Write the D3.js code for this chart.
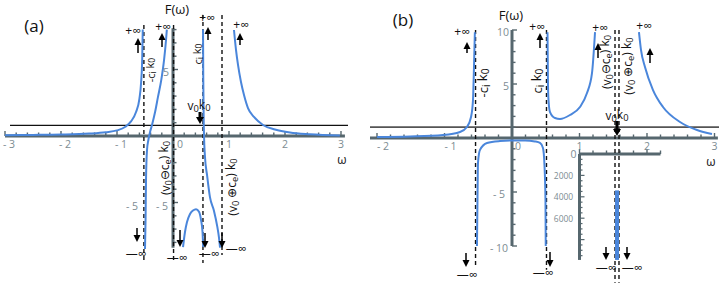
<!DOCTYPE html>
<html><head><meta charset="utf-8">
<script src="https://cdn.jsdelivr.net/npm/d3@7"></script>
<style>body{margin:0;background:#fff} text{font-family:"Open Sans","Noto Sans",sans-serif}</style>
</head><body><svg id="c" width="719" height="283"></svg>
<script>
// ---------- Panel (a) data ----------
const aTickLabels = [-3,-2,-1,0,1,2,3];
const aLevel = 0.8;
const aAsymptotes = [-0.52, 0.01, 0.535, 0.875];      // -ci k0, (v0-ce)k0, ci k0, (v0+ce)k0
const aAsymTop    = [8.35, 8.35, 9.1, 9.1];
const aAsymBottom = [-9.55, -9.55, -9.55, -8.95];
const a1Omega = [-3,-2.5,-2,-1.5,-1.2,-1.0,-0.85,-0.75,-0.66,-0.6,-0.57,-0.55,-0.54];
const a1F     = [0.06,0.08,0.11,0.18,0.28,0.42,0.7,1.1,1.8,2.8,4.0,5.8,8];
const a2Omega = [-0.5,-0.49,-0.482,-0.464,-0.44,-0.41,-0.375,-0.32,-0.27,-0.21,-0.16,-0.125,-0.11];
const a2F     = [-8.5,-6.3,-3.3,-1.05,-0.3,0.3,0.83,1.8,2.9,4.2,5.7,7.2,8];
const a3Omega = [0.536,0.541,0.548,0.554,0.57,0.61,0.66,0.73,0.79,0.82,0.84];
const a3F     = [8,4.2,1.2,0,-1.5,-3.0,-4.6,-5.6,-6.8,-7.6,-8.4];
const a4Omega = [0.179,0.214,0.25,0.304,0.357,0.411,0.464,0.5,0.527,0.539];
const a4F     = [-8.35,-7.22,-6.47,-5.86,-5.6,-5.5,-5.7,-6.3,-7.2,-8.35];
const a5Omega = [1.089,1.125,1.161,1.214,1.268,1.339,1.446,1.607,1.821,2.089,2.446,2.98];
const a5F     = [7.97,6.47,5.34,4.06,3.08,2.1,1.43,0.83,0.49,0.26,0.13,0.04];

// ---------- Panel (b) data ----------
const bTickLabels = [-2,-1,0,1,2,3];
const bYTickLabels = [-10,-5,5,10];
const bLevel = 1;
const bAsymptotes = [-0.54, 0.511, 1.526, 1.585];
const bAsymTop    = [10, 10, 10, 10];
const bAsymBottom = [-11.9, -12.2, -13.4, -13.4];
const b1Omega = [-2.0,-1.51,-1.02,-0.77,-0.667,-0.607,-0.578,-0.563,-0.55];
const b1F     = [0.09,0.14,0.28,0.56,1.02,1.94,3.5,6.6,9.8];
const b2Omega = [-0.519,-0.511,-0.504,-0.474,-0.37,-0.178,0,0.193,0.34,0.415,0.459,0.481,0.496,0.5];
const b2F     = [-10,-5.5,-2.3,-1.1,-0.46,-0.28,-0.23,-0.23,-0.32,-0.46,-0.93,-2.5,-5.7,-10];
const b3Omega = [0.526,0.533,0.541,0.563,0.637,0.711,0.859,1.007,1.111,1.185,1.23];
const b3F     = [9.8,5.0,3.5,2.4,1.85,1.76,2.13,2.87,4.17,6.0,9.8];
const b4Omega = [1.881,1.911,1.97,2.089,2.237,2.489,2.741,2.963];
const b4F     = [9.8,8.15,6.57,4.44,2.87,1.48,0.74,0.37];
// inset
const insetTickLabels = [0,2000,4000,6000];
const insetOmega = [1.556,1.556];
const insetF     = [3400,9900];

const svg = d3.select("#c");
const AX = "#56676e", TL = "#7d8c92", BLUE = "#4a86db";

// scales
const xA = d3.scaleLinear().domain([-3,3]).range([5,341]);
const yA = d3.scaleLinear().domain([-8,8]).range([242.4,29.6]);
const xB = d3.scaleLinear().domain([-2,3]).range([377,714.5]);
const yB = d3.scaleLinear().domain([-10,10]).range([246,30]);
const yI = d3.scaleLinear().domain([0,10000]).range([154,261]);

function curve(g, xs, ys, X, Y, w){
  const pts = xs.map((v,i)=>[v,ys[i]]);
  g.append("path").attr("d", d3.line().x(d=>X(d[0])).y(d=>Y(d[1])).curve(d3.curveMonotoneX)(pts))
   .attr("fill","none").attr("stroke",BLUE).attr("stroke-width",w||2);
}
function arrow(x, y1, y2, thick){
  const dir = y2>y1?1:-1, hl = 7, hw = thick?4:3.5;
  svg.append("line").attr("x1",x).attr("x2",x).attr("y1",y1).attr("y2",y2-dir*hl+dir)
     .attr("stroke","#000").attr("stroke-width",thick?3:1.5);
  svg.append("path").attr("d",`M${x-hw},${y2-dir*hl} L${x+hw},${y2-dir*hl} L${x},${y2} Z`).attr("fill","#000");
}
function rich(x, y, parts, size, rot){
  const t = svg.append("text").attr("font-size",size).attr("text-anchor","middle")
     .attr("dominant-baseline","central").attr("fill","#111")
     .attr("transform",`translate(${x},${y})`+(rot?` rotate(${rot})`:""));
  let sub=false;
  parts.forEach(p=>{
    const s = t.append("tspan").text(p[0]);
    if(p[1] && !sub){ s.attr("dy","0.3em").attr("font-size",size*0.78); sub=true; }
    else if(p[1]){ s.attr("font-size",size*0.78); }
    else if(sub){ s.attr("dy","-0.3em"); sub=false; }
  });
  return t;
}
function label(x,y,txt,size,fill){
  return svg.append("text").attr("x",x).attr("y",y).attr("font-size",size).attr("fill",fill||"#111")
   .attr("text-anchor","middle").attr("dominant-baseline","central").text(txt);
}

// ================= Panel (a) =================
const ga = svg.append("g");
ga.append("line").attr("x1",10).attr("x2",348).attr("y1",yA(aLevel)).attr("y2",yA(aLevel)).attr("stroke","#111").attr("stroke-width",1.4);
ga.append("line").attr("x1",xA(-3)).attr("x2",xA(3.07)).attr("y1",yA(0)).attr("y2",yA(0)).attr("stroke",AX).attr("stroke-width",3);
d3.range(-15,16).forEach(i=>{ const v=i/5; const big = i%5===0;
  ga.append("line").attr("x1",xA(v)).attr("x2",xA(v)).attr("y1",yA(0)).attr("y2",yA(0)-(big?5:3.5)).attr("stroke",AX).attr("stroke-width",1.4);});
aTickLabels.forEach(v=>{ label(xA(v)+(v<0?4:(v===0?7:0)), yA(0)+8, v<0?"- "+(-v):String(v), 10.5, TL); });
ga.append("line").attr("x1",xA(0)).attr("x2",xA(0)).attr("y1",yA(8.1)).attr("y2",yA(-8.4)).attr("stroke",AX).attr("stroke-width",3);
d3.range(-8,9).forEach(v=>{ ga.append("line").attr("x1",xA(0)).attr("x2",xA(0)+(v%5===0?5:3.5)).attr("y1",yA(v)).attr("y2",yA(v)).attr("stroke",AX).attr("stroke-width",1.4);});
label(xA(0)-7, yA(5)+2, "5", 10.5, TL);
label(xA(0)-11, yA(-5)+3, "- 5", 10.5, TL);
label(132, yA(-5)+3, "- 5", 10.5, TL);
label(342, yA(0)+23, "ω", 12);
aAsymptotes.forEach((v,i)=>{ ga.append("line").attr("x1",xA(v)).attr("x2",xA(v)).attr("y1",yA(aAsymTop[i])).attr("y2",yA(aAsymBottom[i]))
  .attr("stroke","#111").attr("stroke-width",1.4).attr("stroke-dasharray","4,3");});
curve(ga,a1Omega,a1F,xA,yA); curve(ga,a2Omega,a2F,xA,yA); curve(ga,a3Omega,a3F,xA,yA);
curve(ga,a4Omega,a4F,xA,yA); curve(ga,a5Omega,a5F,xA,yA);
label(34,25,"(a)",17);
label(177,9,"F(ω)",13);
label(133,30,"+∞",12); label(163,26,"+∞",12); label(207,17,"+∞",12); label(241,24,"+∞",12);
arrow(138,53,38); arrow(162,47,33); arrow(208,40,27); arrow(240,45,33);
label(136,253,"—∞",12); label(177,257,"—∞",12); label(209,253,"—∞",12); label(236,248,"—∞",12);
arrow(137,228,242); arrow(180,230,247); arrow(205,233,248); arrow(222,233,248);
rich(150,70,[["-c"],["i",1],[" k"],["0",1]],11,-90);
rich(197,54,[["c"],["i",1],[" k"],["0",1]],11,-90);
rich(199,105,[["v"],["0",1],["k"],["0",1]],12,0);
arrow(200,112,124,true);
rich(165,168,[["(v"],["0",1],["⊖c"],["e",1],[") k"],["0",1]],12,-90);
rich(232,187,[["(v"],["0",1],[" ⊕c"],["e",1],[") k"],["0",1]],12,-90);

// ================= Panel (b) =================
const gb = svg.append("g");
gb.append("line").attr("x1",370).attr("x2",719).attr("y1",yB(bLevel)).attr("y2",yB(bLevel)).attr("stroke","#555").attr("stroke-width",1.8);
gb.append("line").attr("x1",370).attr("x2",xB(3.05)).attr("y1",yB(0)).attr("y2",yB(0)).attr("stroke",AX).attr("stroke-width",3);
d3.range(-10,16).forEach(i=>{ const v=i/5; const big=i%5===0;
  gb.append("line").attr("x1",xB(v)).attr("x2",xB(v)).attr("y1",yB(0)).attr("y2",yB(0)-(big?5:3.5)).attr("stroke",AX).attr("stroke-width",1.4);});
bTickLabels.forEach(v=>{ label(xB(v)+(v<0?6:(v===0?6:0)), yB(0)+8, v<0?"- "+(-v):String(v), 10.5, TL); });
gb.append("line").attr("x1",xB(0)).attr("x2",xB(0)).attr("y1",yB(10)).attr("y2",yB(-10)).attr("stroke",AX).attr("stroke-width",3);
d3.range(-10,11).forEach(v=>{ gb.append("line").attr("x1",xB(0)).attr("x2",xB(0)+(v%5===0?5:3.5)).attr("y1",yB(v)).attr("y2",yB(v)).attr("stroke",AX).attr("stroke-width",1.4);});
bYTickLabels.forEach(v=>{ label(xB(0)-(v<0?13:(v===10?9:6)), yB(v)+2, v<0?"- "+(-v):String(v), 10.5, TL); });
label(711, yB(0)+23, "ω", 12);
// inset
gb.append("line").attr("x1",xB(1)).attr("x2",xB(2.2)).attr("y1",yI(0)).attr("y2",yI(0)).attr("stroke",AX).attr("stroke-width",3);
d3.range(5,12).forEach(i=>{ const v=i/5;
  gb.append("line").attr("x1",xB(v)).attr("x2",xB(v)).attr("y1",yI(0)).attr("y2",yI(0)-(i%5===0?5:3.5)).attr("stroke",AX).attr("stroke-width",1.4);});
gb.append("line").attr("x1",xB(1)).attr("x2",xB(1)).attr("y1",yI(0)).attr("y2",yI(9900)).attr("stroke",AX).attr("stroke-width",3);
d3.range(0,10000,500).forEach(v=>{ gb.append("line").attr("x1",xB(1)).attr("x2",xB(1)+(v%2000===0?5:3)).attr("y1",yI(v)).attr("y2",yI(v)).attr("stroke",AX).attr("stroke-width",1.2);});
insetTickLabels.forEach(v=>{ label(v===0?xB(1)-6:xB(1)-16, yI(v), String(v), v===0?10.5:8.5, TL); });
bAsymptotes.forEach((v,i)=>{ gb.append("line").attr("x1",xB(v)).attr("x2",xB(v)).attr("y1",yB(bAsymTop[i])).attr("y2",yB(bAsymBottom[i]))
  .attr("stroke","#111").attr("stroke-width",1.4).attr("stroke-dasharray","4,3");});
curve(gb,b1Omega,b1F,xB,yB); curve(gb,b2Omega,b2F,xB,yB); curve(gb,b3Omega,b3F,xB,yB); curve(gb,b4Omega,b4F,xB,yB);
gb.append("path").attr("d",d3.line().x(d=>xB(d[0])).y(d=>yI(d[1]))(insetOmega.map((v,i)=>[v,insetF[i]])))
  .attr("stroke",BLUE).attr("stroke-width",4).attr("fill","none");
label(403,19,"(b)",17);
label(511,15,"F(ω)",13);
label(462,31,"+∞",12); label(537,26,"+∞",12); label(600,27,"+∞",12); label(644,25,"+∞",12);
arrow(467,53,42); arrow(540,48,33); arrow(598,58,43); arrow(650,63,48);
label(467,274,"—∞",12); label(543,272,"—∞",12); label(606,267,"—∞",12); label(632,267,"—∞",12);
arrow(466,253,267); arrow(550,252,267); arrow(606,247,260); arrow(627,247,260);
rich(483,83,[["-c"],["i",1],[" k"],["0",1]],13,-90);
rich(537,81,[["c"],["i",1],[" k"],["0",1]],13,-90);
rich(606,62,[["(v"],["0",1],["⊖c"],["e",1],[") k"],["0",1]],12,-90);
rich(628,66,[["(v"],["0",1],[" ⊕c"],["e",1],[") k"],["0",1]],12,-90);
rich(617,115,[["v"],["0",1],["k"],["0",1]],12,0);
arrow(617,121,136,true);
</script></body></html>
